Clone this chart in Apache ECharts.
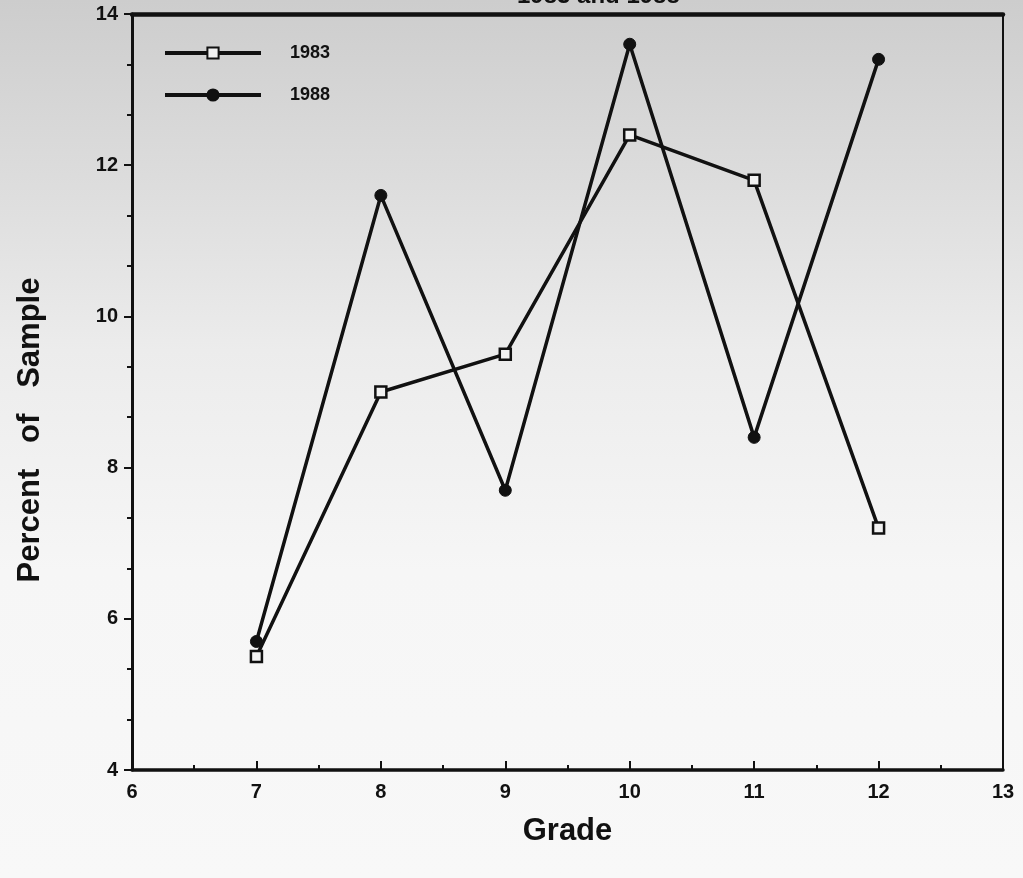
<!DOCTYPE html>
<html>
<head>
<meta charset="utf-8">
<script src="https://cdn.jsdelivr.net/npm/echarts@6/dist/echarts.min.js"></script>
<style>
html,body{margin:0;padding:0;}
#chart{width:1023px;height:878px;}
</style>
</head>
<body>
<div id="chart"></div>
<script>
const grades = [7, 8, 9, 10, 11, 12];
const values1983 = [5.5, 9.0, 9.5, 12.4, 11.8, 7.2];
const values1988 = [5.7, 11.6, 7.7, 13.6, 8.4, 13.4];
const seriesNames = ['1983', '1988'];
const titleText = '1983 and 1988';
const xAxisName = 'Grade';
const yAxisName = 'Percent   of   Sample';

const chart = echarts.init(document.getElementById('chart'));
const font = 'Liberation Sans, Arial, sans-serif';
chart.setOption({
  animation: false,
  backgroundColor: {
    type: 'linear', x: 0, y: 0, x2: 0, y2: 1,
    colorStops: [
      {offset: 0, color: '#cdcdcd'},
      {offset: 0.2, color: '#dcdcdc'},
      {offset: 0.4, color: '#ececec'},
      {offset: 0.65, color: '#f6f6f6'},
      {offset: 1, color: '#f8f8f8'}
    ]
  },
  title: {
    text: titleText,
    left: 512,
    top: -21,
    textStyle: {fontFamily: font, fontWeight: 'bold', fontSize: 24, color: '#111'}
  },
  grid: {
    left: 132, right: 20, top: 14, bottom: 108,
    show: true, borderColor: '#111', borderWidth: 2, backgroundColor: 'transparent'
  },
  legend: {
    orient: 'vertical',
    left: 158, top: 39,
    itemWidth: 96, itemHeight: 14, itemGap: 24,
    data: seriesNames,
    lineStyle: {width: 4},
    textStyle: {fontFamily: font, fontWeight: 'bold', fontSize: 18, color: '#111', padding: [0, 0, 0, 24]}
  },
  xAxis: [{
    type: 'value', min: 6, max: 13, interval: 1,
    name: xAxisName, nameLocation: 'middle', nameGap: 46,
    nameTextStyle: {fontFamily: font, fontWeight: 'bold', fontSize: 31, color: '#111'},
    axisLine: {lineStyle: {color: '#111', width: 3.5}},
    axisTick: {inside: true, length: 9, lineStyle: {color: '#111', width: 2}},
    minorTick: {show: true, splitNumber: 2, length: 5, lineStyle: {color: '#111', width: 2}},
    axisLabel: {fontFamily: font, fontWeight: 'bold', fontSize: 20, color: '#111', margin: 12},
    splitLine: {show: false}
  }, {
    type: 'value', min: 6, max: 13, interval: 1, position: 'top',
    axisLine: {show: true, lineStyle: {color: '#111', width: 4.5}},
    axisTick: {show: false}, axisLabel: {show: false}, splitLine: {show: false}
  }],
  yAxis: {
    type: 'value', min: 4, max: 14, interval: 2,
    name: yAxisName, nameLocation: 'middle', nameGap: 86, nameRotate: 90,
    nameTextStyle: {fontFamily: font, fontWeight: 'bold', fontSize: 31, color: '#111', padding: [0, 76, 0, 0]},
    axisLine: {lineStyle: {color: '#111', width: 3}},
    axisTick: {inside: false, length: 8, lineStyle: {color: '#111', width: 2}},
    minorTick: {show: true, splitNumber: 3, length: 5, lineStyle: {color: '#111', width: 2}},
    axisLabel: {fontFamily: font, fontWeight: 'bold', fontSize: 20, color: '#111', margin: 14},
    splitLine: {show: false}
  },
  series: [
    {
      name: seriesNames[0], type: 'line',
      data: grades.map((g, i) => [g, values1983[i]]),
      symbol: 'rect', symbolSize: 11,
      itemStyle: {color: '#f2f2f2', borderColor: '#111', borderWidth: 2.5},
      lineStyle: {color: '#111', width: 3.5},
      z: 3
    },
    {
      name: seriesNames[1], type: 'line',
      data: grades.map((g, i) => [g, values1988[i]]),
      symbol: 'circle', symbolSize: 12,
      itemStyle: {color: '#111', borderColor: '#111', borderWidth: 1},
      lineStyle: {color: '#111', width: 3.5},
      z: 2
    }
  ]
});
</script>
</body>
</html>
